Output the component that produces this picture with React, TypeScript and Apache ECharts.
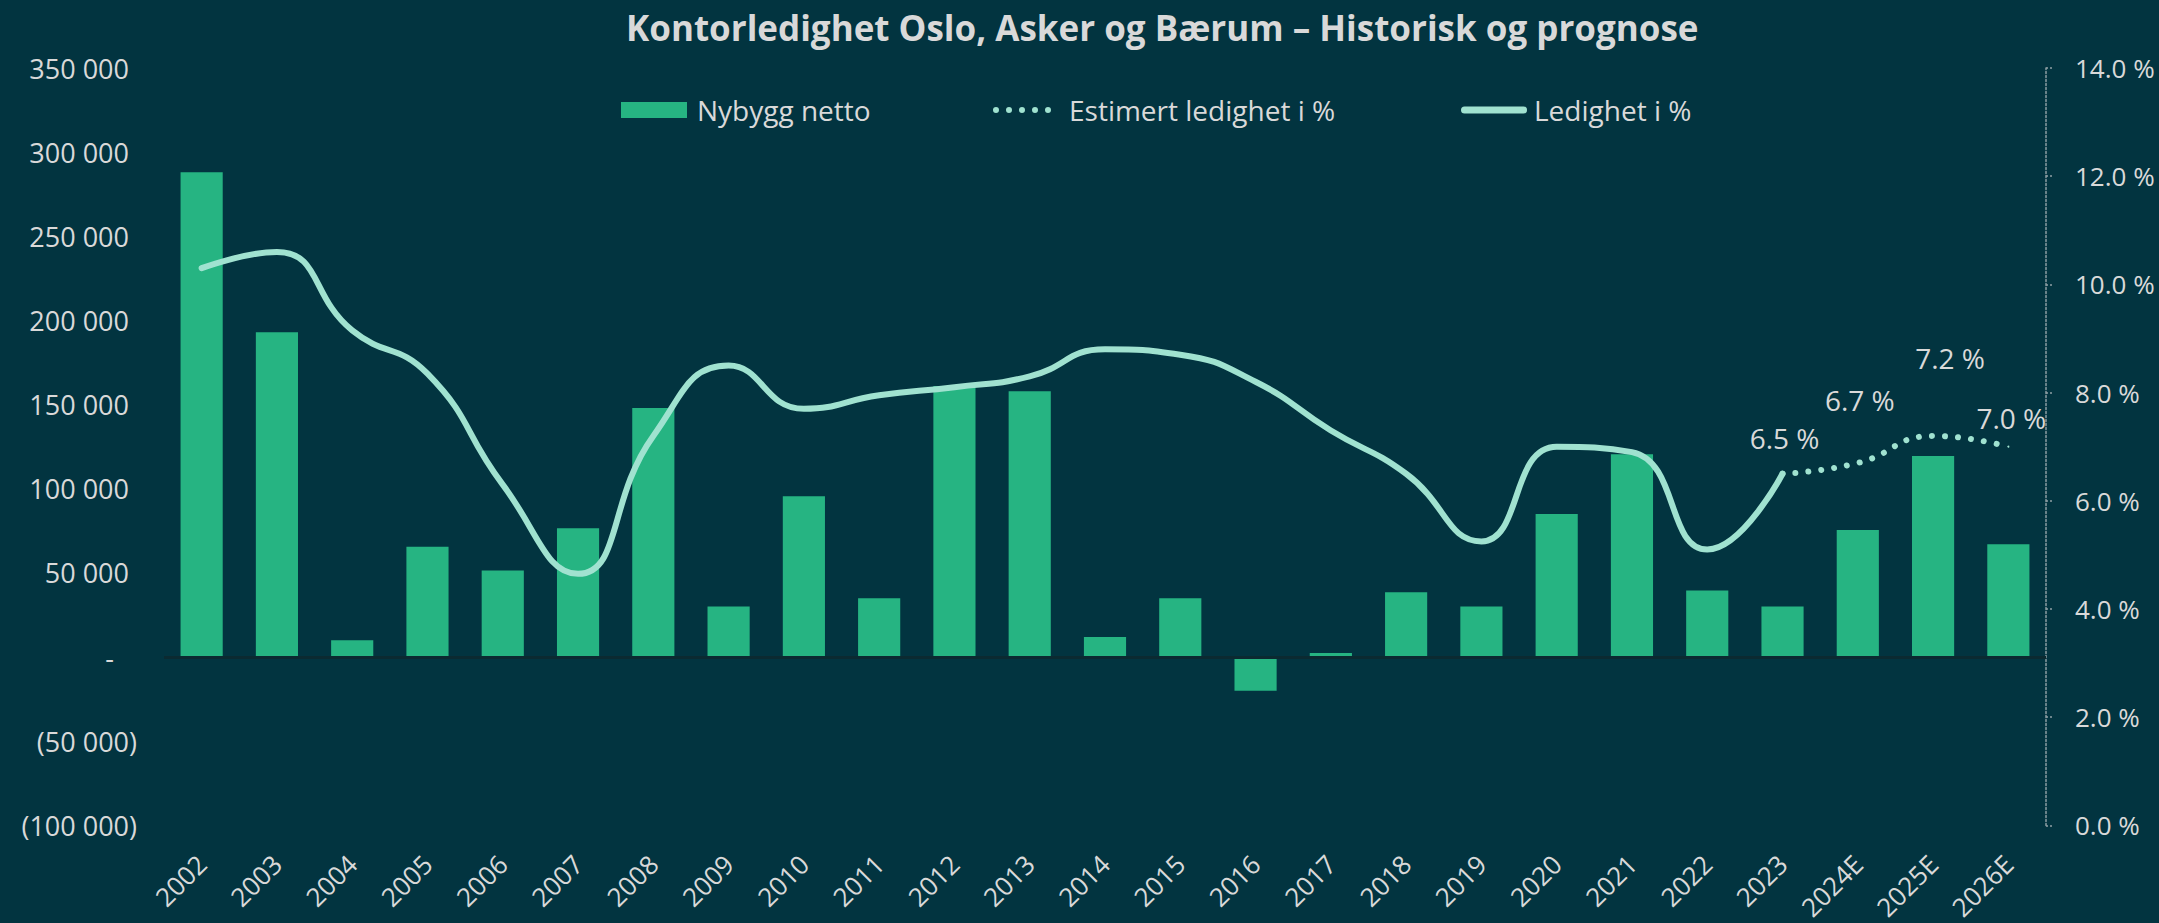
import React, { useEffect, useRef } from "react";
import * as echarts from "echarts";

const categories = [
  "2002", "2003", "2004", "2005", "2006", "2007", "2008", "2009", "2010", "2011",
  "2012", "2013", "2014", "2015", "2016", "2017", "2018", "2019", "2020", "2021",
  "2022", "2023", "2024E", "2025E", "2026E",
];

const nybyggNetto = [
  288000, 193000, 10000, 65500, 51500, 76500, 148000, 30000, 95500, 35000,
  161000, 158000, 12000, 35000, -20000, 2500, 38500, 30000, 85000, 120500,
  39500, 30000, 75500, 119500, 67000,
];

const ledighet = [
  10.3, 10.6, 9.15, 8.35, 6.3, 4.65, 7.2, 8.5, 7.7, 7.95,
  8.1, 8.3, 8.8, 8.7, 8.2, 7.3, 6.5, 5.25, 7.0, 6.9,
  5.1, 6.5, null, null, null,
];

const estimertLedighet = [
  null, null, null, null, null, null, null, null, null, null,
  null, null, null, null, null, null, null, null, null, null,
  null, 6.5, 6.7, 7.2, 7.0,
];

// label placement (layout, not data)
const estimertLabelOffsets: Record<number, [number, number]> = {
  21: [2, -36],
  22: [2, -63],
  23: [17, -78],
  24: [3, -29],
};

const BG = "#023440";
const BAR = "#26B482";
const LINE = "#A0E2D0";
const TXT = "#D9D9D9";
const FONT = "'Open Sans', sans-serif";

const DOTS_ICON =
  "path://M0,3a3,3 0 1,0 6,0a3,3 0 1,0 -6,0Z" +
  "M13,3a3,3 0 1,0 6,0a3,3 0 1,0 -6,0Z" +
  "M26,3a3,3 0 1,0 6,0a3,3 0 1,0 -6,0Z" +
  "M39,3a3,3 0 1,0 6,0a3,3 0 1,0 -6,0Z" +
  "M52,3a3,3 0 1,0 6,0a3,3 0 1,0 -6,0Z";
const ROUNDBAR_ICON = "path://M3.5,0L62.5,0A3.5,3.5 0 0 1 62.5,7L3.5,7A3.5,3.5 0 0 1 3.5,0Z";

function fmtThousands(v: number): string {
  return Math.abs(Math.round(v)).toString().replace(/\B(?=(\d{3})+(?!\d))/g, " ");
}

export default function App() {
  const ref = useRef<HTMLDivElement>(null);

  useEffect(() => {
    document.body.style.margin = "0";
    document.body.style.background = BG;
    if (!ref.current) return;
    const chart = echarts.init(ref.current, undefined, { renderer: "svg" });

    const labelBase = { color: TXT, fontSize: 27, fontFamily: FONT };
    const legendText = { color: TXT, fontSize: 28, fontFamily: FONT };

    const option: any = {
      animation: false,
      backgroundColor: BG,
      title: {
        text: "Kontorledighet Oslo, Asker og Bærum – Historisk og prognose",
        left: 626,
        top: 10,
        padding: 0,
        textStyle: {
          color: TXT,
          fontSize: 35,
          fontWeight: "bold",
          fontFamily: FONT,
        },
      },
      legend: [
        {
          data: [{ name: "Nybygg netto", icon: "rect" }],
          left: 621,
          top: 96,
          padding: 0,
          itemWidth: 66,
          itemHeight: 16,
          textStyle: { ...legendText, padding: [0, 0, 0, 5] },
        },
        {
          data: [{ name: "Estimert ledighet i %", icon: DOTS_ICON }],
          left: 993,
          top: 96,
          padding: 0,
          itemWidth: 58,
          itemHeight: 6,
          textStyle: { ...legendText, padding: [0, 0, 0, 13] },
        },
        {
          data: [{ name: "Ledighet i %", icon: ROUNDBAR_ICON }],
          left: 1461,
          top: 96,
          padding: 0,
          itemWidth: 66,
          itemHeight: 7,
          textStyle: { ...legendText, padding: [0, 0, 0, 2] },
        },
      ],
      grid: { left: 164, right: 113, top: 68, bottom: 97, containLabel: false },
      xAxis: {
        type: "category",
        data: categories,
        axisLine: { show: false, onZero: false },
        axisTick: { show: false },
        axisLabel: {
          color: TXT,
          fontSize: 26,
          fontFamily: FONT,
          rotate: 45,
          margin: 34,
          interval: 0,
        },
        splitLine: { show: false },
      },
      yAxis: [
        {
          type: "value",
          min: -100000,
          max: 350000,
          interval: 50000,
          position: "left",
          axisLine: { show: false },
          axisTick: { show: false },
          splitLine: { show: false },
          axisLabel: {
            margin: 27,
            formatter: (v: number) => {
              if (v === 0) return "{z|-}";
              if (v < 0) return "{n|(" + fmtThousands(v) + ")}";
              return "{p|" + fmtThousands(v) + "}";
            },
            rich: {
              p: { ...labelBase, padding: [0, 8, 0, 0] },
              n: { ...labelBase },
              z: { ...labelBase, padding: [0, 23, 0, 0] },
            },
          },
        },
        {
          type: "value",
          min: 0,
          max: 14,
          interval: 2,
          position: "right",
          axisLine: {
            show: true,
            lineStyle: { color: "#8E9FA4", width: 1.5, type: [2, 2] },
          },
          axisTick: {
            show: true,
            length: 7,
            lineStyle: { color: "#8E9FA4", width: 1.5, type: [2, 2] },
          },
          splitLine: { show: false },
          axisLabel: {
            color: TXT,
            fontSize: 26,
            fontFamily: FONT,
            margin: 29,
            formatter: (v: number) => v.toFixed(1) + " %",
          },
        },
      ],
      series: [
        {
          name: "Nybygg netto",
          type: "bar",
          yAxisIndex: 0,
          data: nybyggNetto,
          barWidth: "56%",
          itemStyle: { color: BAR },
          markLine: {
            silent: true,
            symbol: ["none", "none"],
            label: { show: false },
            lineStyle: { color: "#0B2A31", width: 3, type: "solid" },
            data: [{ yAxis: 0 }],
          },
        },
        {
          name: "Estimert ledighet i %",
          type: "line",
          yAxisIndex: 1,
          smooth: 0.5,
          symbol: "circle",
          symbolSize: 2,
          itemStyle: { color: LINE },
          lineStyle: { color: LINE, width: 6, type: [0.01, 13], cap: "round" },
          data: estimertLedighet.map((v, i) =>
            v === null
              ? null
              : {
                  value: v,
                  label: {
                    show: true,
                    position: "inside",
                    offset: estimertLabelOffsets[i] || [0, -30],
                    formatter: (p: any) => Number(p.value).toFixed(1) + " %",
                    color: TXT,
                    fontSize: 28,
                    fontFamily: FONT,
                  },
                }
          ),
        },
        {
          name: "Ledighet i %",
          type: "line",
          yAxisIndex: 1,
          smooth: 0.5,
          showSymbol: false,
          symbol: "none",
          itemStyle: { color: LINE },
          lineStyle: { color: LINE, width: 6, cap: "round" },
          data: ledighet,
        },
      ],
    };

    chart.setOption(option);
    return () => chart.dispose();
  }, []);

  return (
    <div
      ref={ref}
      style={{ position: "fixed", left: 0, top: 0, width: 2159, height: 923, background: BG }}
    />
  );
}
